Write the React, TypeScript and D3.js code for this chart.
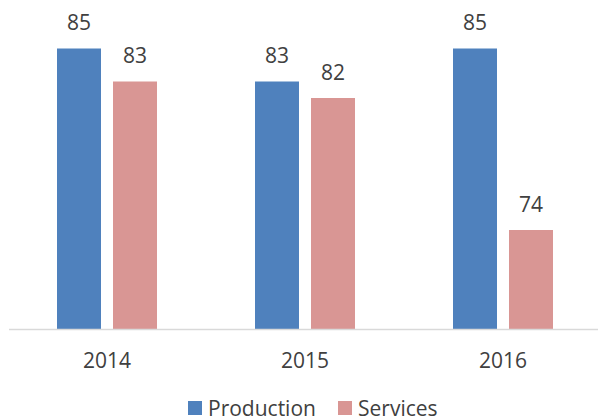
import * as d3 from "d3";
import { useRef, useEffect } from "react";

const years = ["2014", "2015", "2016"];
const seriesNames = ["Production", "Services"];
const production = [85, 83, 85];
const services = [83, 82, 74];
const colors = ["#4F81BD", "#D99694"];

const App = () => {
  const svgRef = useRef<SVGSVGElement | null>(null);

  useEffect(() => {
    const width = 598;
    const font = "'Open Sans', sans-serif";
    const textColor = "#404040";
    const fontSize = 21;

    const svg = d3.select(svgRef.current);
    svg.selectAll("*").remove();

    const x0 = d3.scaleBand().domain(years).range([8, 602]);
    const x1 = d3
      .scaleBand()
      .domain(seriesNames)
      .range([0, 100])
      .paddingInner(12 / 56);
    const groupOffset = (x0.bandwidth() - 100) / 2;

    const y = d3.scaleLinear().domain([68, 85]).range([329, 48.5]);

    const values = [production, services];

    seriesNames.forEach((name, si) => {
      const g = svg.append("g");
      g.selectAll("rect")
        .data(years)
        .join("rect")
        .attr("x", (d) => x0(d)! + groupOffset + x1(name)!)
        .attr("y", (_, i) => y(values[si][i]))
        .attr("width", x1.bandwidth())
        .attr("height", (_, i) => y(68) - y(values[si][i]))
        .attr("fill", colors[si]);

      g.selectAll("text")
        .data(years)
        .join("text")
        .attr("x", (d) => x0(d)! + groupOffset + x1(name)! + x1.bandwidth() / 2)
        .attr("y", (_, i) => y(values[si][i]) - 18.5)
        .attr("text-anchor", "middle")
        .attr("font-family", font)
        .attr("font-size", fontSize)
        .attr("fill", textColor)
        .text((_, i) => values[si][i]);
    });

    // baseline
    svg.append("line")
      .attr("x1", 9)
      .attr("x2", width)
      .attr("y1", 329.5)
      .attr("y2", 329.5)
      .attr("stroke", "#D9D9D9")
      .attr("stroke-width", 1.5);

    // category labels
    svg.append("g")
      .selectAll("text")
      .data(years)
      .join("text")
      .attr("x", (d) => x0(d)! + x0.bandwidth() / 2)
      .attr("y", 368)
      .attr("text-anchor", "middle")
      .attr("font-family", font)
      .attr("font-size", fontSize)
      .attr("fill", textColor)
      .text((d) => d);

    // legend
    const legendX = [188, 338];
    const legend = svg.append("g");
    seriesNames.forEach((name, i) => {
      legend.append("rect")
        .attr("x", legendX[i])
        .attr("y", 401)
        .attr("width", 14)
        .attr("height", 14)
        .attr("fill", colors[i]);
      legend.append("text")
        .attr("x", legendX[i] + 20)
        .attr("y", 416)
        .attr("font-family", font)
        .attr("font-size", fontSize)
        .attr("fill", textColor)
        .text(name);
    });
  }, []);

  return (
    <svg
      ref={svgRef}
      width={598}
      height={418}
      style={{ position: "absolute", left: 0, top: 0, background: "#fff" }}
    />
  );
};

export default App;
